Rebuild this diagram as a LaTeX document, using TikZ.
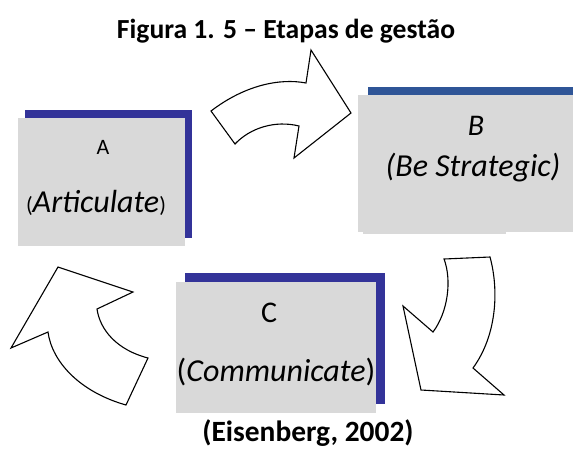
\documentclass[tikz,border=0pt]{standalone}
\usepackage{fontspec}
\setmainfont{Carlito}
\usepackage{tikz}
\usetikzlibrary{shadows}
\definecolor{boxgray}{RGB}{217,217,217}
\definecolor{shadowblue}{RGB}{51,51,153}
\definecolor{barblue}{RGB}{47,85,151}

\begin{document}
\begin{tikzpicture}[x=1pt, y=-1pt,
    stagebox/.style={fill=boxgray, inner sep=0pt},
    turnarrow/.style={draw=black, line width=1.1pt, fill=white, line join=miter},
    bigtext/.style={font=\fontsize{32}{38}\selectfont, inner sep=0pt},
    lettertext/.style={font=\fontsize{30}{36}\selectfont, inner sep=0pt}]
    \useasboundingbox (0,0) rectangle (573,448);

    % Title
    \node[font=\fontsize{27.6}{32}\selectfont\bfseries, inner sep=0pt] (title) at (286,31) {Figura 1. 5 – Etapas de gestão};

    % Stage boxes with offset shadows
    \node[stagebox, minimum width=167pt, minimum height=128pt,
          general shadow={fill=shadowblue, shadow xshift=7pt, shadow yshift=8pt}] (boxA) at (101.5,182) {};
    \node[stagebox, minimum width=232pt, minimum height=137pt,
          general shadow={fill=barblue, shadow xshift=10pt, shadow yshift=8pt}] (boxB) at (474,163.5) {};
    \fill[boxgray] (363,231) rectangle (506,234);
    \node[stagebox, minimum width=200pt, minimum height=131pt,
          general shadow={fill=shadowblue, shadow xshift=9pt, shadow yshift=9pt}] (boxC) at (276,347.5) {};

    % Box texts
    \node[font=\fontsize{22}{26}\selectfont, inner sep=0pt] (letterA) at (103,147) {A};
    \node[bigtext] (nameA) at (96,203) {{\fontsize{22}{26}\selectfont(}\textit{Articulate}{\fontsize{22}{26}\selectfont)}};
    \node[lettertext] (letterB) at (476,126) {\textit{B}};
    \node[bigtext] (nameB) at (473,168) {\textit{(Be Strategic)}};
    \node[lettertext] (letterC) at (269,313) {C};
    \node[bigtext] (nameC) at (276,372) {(\textit{Communicate})};

    % Curved block arrows
    \draw[turnarrow] (211,111) .. controls (245,85) and (280,78) .. (306,83)
        -- (311,50) -- (351,113) -- (294,158) -- (299,126)
        .. controls (275,120) and (250,128) .. (235,144) -- cycle;
    \draw[turnarrow] (444,259) -- (490,257) .. controls (499,290) and (497,335) .. (473,368)
        -- (504,395) -- (421,390) -- (403,306) -- (433,332)
        .. controls (448,312) and (452,280) .. (444,259) -- cycle;
    \draw[turnarrow] (58,267) -- (133,292) -- (97,309)
        .. controls (100,330) and (117,350) .. (148,358) -- (126,405)
        .. controls (80,392) and (52,362) .. (48,332) -- (11,348) -- cycle;

    % Source
    \node[font=\fontsize{29.4}{34}\selectfont\bfseries, inner sep=0pt] (source) at (308,433) {(Eisenberg, 2002)};
\end{tikzpicture}
\end{document}
